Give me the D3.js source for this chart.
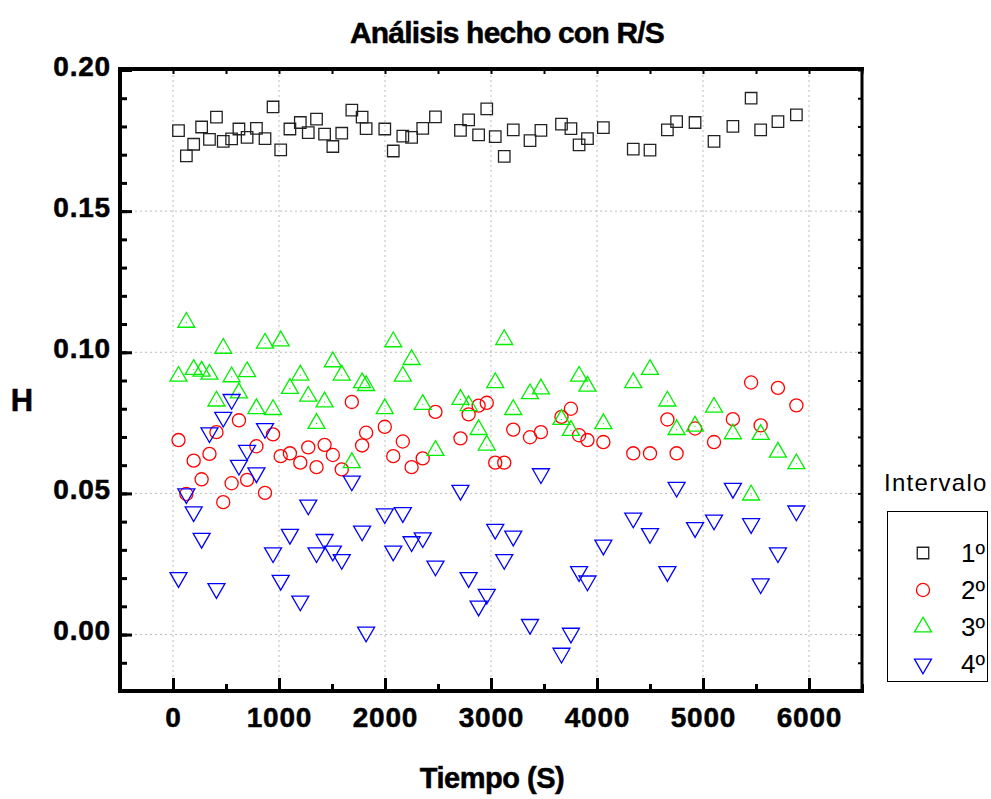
<!DOCTYPE html>
<html>
<head>
<meta charset="utf-8">
<script src="https://cdn.jsdelivr.net/npm/d3@7"></script>
<style>
  body { margin: 0; background: #ffffff; }
  text { font-family: "Liberation Sans", Arial, sans-serif; fill: #000; }
  .heavy { stroke: #000; stroke-width: 0.5px; }
</style>
</head>
<body>
<div id="scatter"></div>
<script>
// ---- data ----
var timeValues = [52, 126, 195, 270, 344, 410, 474, 553, 622, 699, 787, 868, 944, 1016, 1103,
  1201, 1276, 1354, 1430, 1508, 1592, 1687, 1784, 1822, 1998, 2078, 2168, 2251, 2356, 2476,
  2712, 2789, 2883, 2960, 3040, 3125, 3210, 3368, 3471, 3665, 3754, 3831, 3910, 4060,
  4342, 4500, 4664, 4751, 4925, 5104, 5282, 5454, 5544, 5707, 5881];

var interval1 = [0.1785, 0.1696, 0.1737, 0.1798, 0.1754, 0.1833, 0.1747, 0.1756, 0.1791, 0.1761,
  0.1793, 0.1757, 0.1869, 0.1717, 0.1791, 0.1814, 0.1778, 0.1826, 0.1773, 0.1729, 0.1776,
  0.1858, 0.1833, 0.1792, 0.1791, 0.1713, 0.1766, 0.1761, 0.1793, 0.1834, 0.1786, 0.1823,
  0.1770, 0.1862, 0.1764, 0.1694, 0.1788, 0.1750, 0.1786, 0.1808, 0.1792, 0.1735, 0.1757,
  0.1796, 0.1720, 0.1716, 0.1788, 0.1817, 0.1814, 0.1747, 0.1800, 0.1900, 0.1788, 0.1817, 0.1841];

var interval2 = [0.0689, 0.0498, 0.0616, 0.0550, 0.0640, 0.0717, 0.0469, 0.0536, 0.0759, 0.0548,
  0.0667, 0.0502, 0.0709, 0.0632, 0.0642, 0.0609, 0.0663, 0.0593, 0.0672, 0.0636, 0.0585,
  0.0824, 0.0670, 0.0715, 0.0736, 0.0632, 0.0684, 0.0593, 0.0624, 0.0789, 0.0695, 0.0780,
  0.0811, 0.0821, 0.0609, 0.0609, 0.0726, 0.0699, 0.0717, 0.0771, 0.0800, 0.0706, 0.0689,
  0.0682, 0.0642, 0.0642, 0.0762, 0.0642, 0.0730, 0.0682, 0.0763, 0.0893, 0.0741, 0.0874, 0.0812];

var interval3 = [0.0915, 0.1106, 0.0939, 0.0933, 0.0922, 0.0827, 0.1014, 0.0913, 0.0856, 0.0931,
  0.0800, 0.1032, 0.0797, 0.1040, 0.0872, 0.0919, 0.0844, 0.0748, 0.0824, 0.0966, 0.0919,
  0.0609, 0.0892, 0.0882, 0.0800, 0.1037, 0.0915, 0.0974, 0.0815, 0.0652, 0.0833, 0.0811,
  0.0726, 0.0671, 0.0892, 0.1045, 0.0797, 0.0853, 0.0870, 0.0762, 0.0723, 0.0915, 0.0880,
  0.0747, 0.0892, 0.0939, 0.0827, 0.0726, 0.0738, 0.0805, 0.0711, 0.0494, 0.0709, 0.0646, 0.0605];

var interval4 = [0.0202, 0.0499, 0.0435, 0.0341, 0.0715, 0.0163, 0.0770, 0.0833, 0.0600, 0.0653,
  0.0573, 0.0730, 0.0290, 0.0192, 0.0355, 0.0119, 0.0459, 0.0290, 0.0337, 0.0296, 0.0266,
  0.0544, 0.0367, 0.0009, 0.0428, 0.0296, 0.0432, 0.0329, 0.0343, 0.0243, 0.0511, 0.0202,
  0.0101, 0.0143, 0.0373, 0.0266, 0.0349, 0.0036, 0.0570, -0.0066, 0.0005, 0.0223, 0.0190,
  0.0317, 0.0413, 0.0358, 0.0223, 0.0522, 0.0379, 0.0406, 0.0518, 0.0393, 0.0180, 0.0290, 0.0438];

var xTickValues = [0, 1000, 2000, 3000, 4000, 5000, 6000];
var yTickValues = [0.00, 0.05, 0.10, 0.15, 0.20];
var legendLabels = ["1º", "2º", "3º", "4º"];

// ---- chart setup ----
var svgWidth = 991;
var svgHeight = 799;
var plot = { left: 120, right: 862, top: 70, bottom: 691 };

var svg = d3.select("#scatter")
  .append("svg")
  .attr("width", svgWidth)
  .attr("height", svgHeight);

var xScale = d3.scaleLinear().domain([-500, 6500]).range([plot.left, plot.right]);
var yScale = d3.scaleLinear().domain([-0.02, 0.20]).range([plot.bottom, plot.top]);

var xMinor = d3.range(-500, 6501, 500);
var yMinor = d3.range(-0.02, 0.2001, 0.01);

// dotted grid
var grid = svg.append("g")
  .attr("stroke", "#bdbdbd")
  .attr("stroke-width", 1)
  .attr("stroke-dasharray", "2,3");

grid.selectAll(".gx")
  .data(xTickValues)
  .enter()
  .append("line")
  .attr("x1", d => xScale(d))
  .attr("x2", d => xScale(d))
  .attr("y1", plot.top)
  .attr("y2", plot.bottom);

grid.selectAll(".gy")
  .data(yTickValues.slice(0, 4))
  .enter()
  .append("line")
  .attr("x1", plot.left)
  .attr("x2", plot.right)
  .attr("y1", d => yScale(d))
  .attr("y2", d => yScale(d));

// bottom axis: minor then major ticks, pointing inward
var xAxisMinor = svg.append("g")
  .attr("transform", `translate(0, ${plot.bottom})`)
  .call(d3.axisBottom(xScale).tickValues(xMinor).tickSize(-7).tickFormat(""));

var xAxis = svg.append("g")
  .attr("transform", `translate(0, ${plot.bottom})`)
  .call(d3.axisBottom(xScale).tickValues(xTickValues).tickSize(-13).tickPadding(16).tickFormat(d3.format("d")));

// left axis
var yAxisMinor = svg.append("g")
  .attr("transform", `translate(${plot.left}, 0)`)
  .call(d3.axisLeft(yScale).tickValues(yMinor).tickSize(-7).tickFormat(""));

var yAxis = svg.append("g")
  .attr("transform", `translate(${plot.left}, 0)`)
  .call(d3.axisLeft(yScale).tickValues(yTickValues).tickSize(-12).tickPadding(9).tickFormat(d3.format(".2f")));

// top + right small inward ticks
var xAxisTop = svg.append("g")
  .attr("transform", `translate(0, ${plot.top})`)
  .call(d3.axisTop(xScale).tickValues(xMinor).tickSize(-4).tickFormat(""));

var yAxisRight = svg.append("g")
  .attr("transform", `translate(${plot.right}, 0)`)
  .call(d3.axisRight(yScale).tickValues(yMinor).tickSize(-4).tickFormat(""));

svg.selectAll(".domain").remove();
svg.selectAll(".tick line").attr("stroke", "#000").attr("stroke-width", 3);
xAxisTop.selectAll(".tick line").attr("stroke-width", 2);
yAxisRight.selectAll(".tick line").attr("stroke-width", 2);

svg.selectAll(".tick text")
  .attr("font-family", "'Liberation Sans', Arial, sans-serif")
  .attr("font-size", 28)
  .attr("font-weight", "bold")
  .attr("letter-spacing", 0.8)
  .attr("fill", "#000")
  .classed("heavy", true);
yAxis.selectAll(".tick text").attr("dy", "0.18em");

// frame
var frame = svg.append("g").attr("stroke", "#000").attr("stroke-linecap", "square");
frame.append("line").attr("x1", plot.left).attr("x2", plot.left).attr("y1", plot.top).attr("y2", plot.bottom).attr("stroke-width", 4);
frame.append("line").attr("x1", plot.left).attr("x2", plot.right).attr("y1", plot.bottom).attr("y2", plot.bottom).attr("stroke-width", 4);
frame.append("line").attr("x1", plot.left).attr("x2", plot.right).attr("y1", plot.top - 1).attr("y2", plot.top - 1).attr("stroke-width", 4);
frame.append("line").attr("x1", plot.right).attr("x2", plot.right).attr("y1", plot.top).attr("y2", plot.bottom).attr("stroke-width", 3);

// ---- markers ----
var series = [
  { values: interval1, color: "#222222", shape: d3.symbolSquare, size: 132, rotate: 0 },
  { values: interval2, color: "#ff0000", shape: d3.symbolCircle, size: 135, rotate: 0 },
  { values: interval3, color: "#00f000", shape: d3.symbolTriangle, size: 125, rotate: 0 },
  { values: interval4, color: "#0000ff", shape: d3.symbolTriangle, size: 125, rotate: 180 }
];

series.forEach(function(s, i) {
  var pts = timeValues.map((t, j) => ({ t: t, v: s.values[j] }));
  var g = svg.append("g");
  g.selectAll("path")
    .data(pts)
    .enter()
    .append("path")
    .attr("d", d3.symbol().type(s.shape).size(s.size))
    .attr("transform", d => `translate(${xScale(d.t)}, ${yScale(d.v)}) rotate(${s.rotate})`)
    .attr("fill", "none")
    .attr("stroke", s.color)
    .attr("stroke-width", 1.3);
  if (i === 2) {
    // centre dot on the up triangles
    g.selectAll("circle")
      .data(pts)
      .enter()
      .append("circle")
      .attr("cx", d => xScale(d.t))
      .attr("cy", d => yScale(d.v))
      .attr("r", 0.6)
      .attr("fill", s.color);
  }
});

// ---- titles ----
svg.append("text")
  .attr("x", 507)
  .attr("y", 43)
  .attr("text-anchor", "middle")
  .attr("font-size", 30)
  .attr("font-weight", "bold")
  .attr("letter-spacing", -0.8)
  .classed("heavy", true)
  .text("Análisis hecho con R/S");

svg.append("text")
  .attr("x", 492)
  .attr("y", 788)
  .attr("text-anchor", "middle")
  .attr("font-size", 29)
  .attr("font-weight", "bold")
  .attr("letter-spacing", -0.5)
  .classed("heavy", true)
  .text("Tiempo (S)");

svg.append("text")
  .attr("x", 22)
  .attr("y", 411)
  .attr("text-anchor", "middle")
  .attr("font-size", 31)
  .attr("font-weight", "bold")
  .classed("heavy", true)
  .text("H");

// ---- legend ----
svg.append("text")
  .attr("x", 884)
  .attr("y", 491)
  .attr("font-size", 24)
  .attr("letter-spacing", 1.3)
  .text("Intervalo");

var legend = svg.append("g");
legend.append("rect")
  .attr("x", 887.5)
  .attr("y", 511.5)
  .attr("width", 100)
  .attr("height", 170)
  .attr("fill", "none")
  .attr("stroke", "#000")
  .attr("stroke-width", 1);

var legendRows = legend.selectAll(".row")
  .data(series)
  .enter()
  .append("g")
  .attr("transform", (d, i) => `translate(0, ${553 + i * 37})`);

legendRows.append("path")
  .attr("d", d => d3.symbol().type(d.shape).size(d.size)())
  .attr("transform", d => `translate(923, 0) rotate(${d.rotate})`)
  .attr("fill", "none")
  .attr("stroke", d => d.color)
  .attr("stroke-width", 1.3);

legendRows.append("text")
  .attr("x", 985)
  .attr("y", 9)
  .attr("text-anchor", "end")
  .attr("font-size", 26)
  .text((d, i) => legendLabels[i]);
</script>
</body>
</html>
